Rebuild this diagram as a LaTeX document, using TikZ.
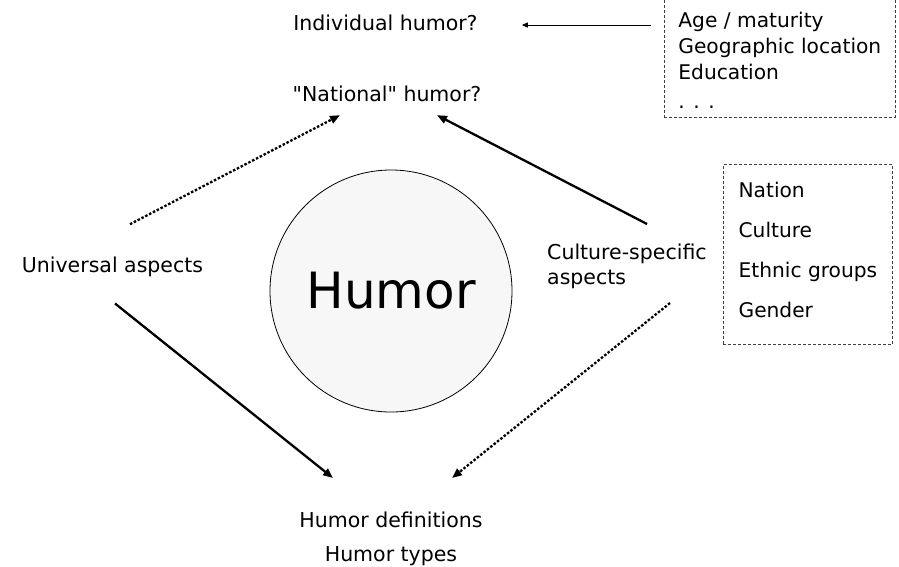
\documentclass[tikz,border=0pt]{standalone}
\usepackage{fontspec}
\setmainfont{DejaVu Sans}
\usetikzlibrary{arrows.meta,calc}
\tikzset{
  txt/.style={inner sep=0pt, font=\fontsize{20.5}{24}\selectfont},
  lst/.style={rectangle, draw=black!75, line width=0.8pt, dash pattern=on 3pt off 2pt,
              align=left, font=\fontsize{20.2}{26}\selectfont},
  hub/.style={circle, draw, line width=0.8pt, fill=black!3, minimum size=242pt,
              inner sep=0pt, font=\fontsize{50}{60}\selectfont},
  arr/.style={-{Triangle[length=10pt,width=8pt]}, line width=2.3pt},
  darr/.style={arr, dash pattern=on 2.5pt off 1.8pt},
  tarr/.style={-{Triangle[length=6pt,width=5pt]}, line width=1pt}
}
\begin{document}
\begin{tikzpicture}[x=1pt, y=-1pt]
  \useasboundingbox (0,0) rectangle (899,566);
  \clip (0,0) rectangle (899,566);
  \node[hub] (humor) at (391,291) {Humor};
  \node[txt, anchor=base] (indiv) at (385.5,30.7) {Individual humor?};
  \node[txt, anchor=base] (natl) at (387,101.7) {\textquotedbl National\textquotedbl{} humor?};
  \node[txt, anchor=base] (univ) at (112.5,272) {Universal aspects};
  \node[txt, anchor=north west, align=left, font=\fontsize{20.5}{25}\selectfont] (cult) at (547,244) {Culture-specific\\aspects};
  \node[txt, anchor=north, align=center, font=\fontsize{20.5}{34}\selectfont] (defs) at (391,511.5) {Humor definitions\\Humor types};
  \node[lst, anchor=south west, minimum width=229pt, inner xsep=14pt, inner ysep=9pt, text height=115pt] (agebox) at (664,118)
    {Age / maturity\\Geographic location\\Education\\[3pt]. . .};
  \node[lst, anchor=north west, minimum width=169pt, inner xsep=15pt, inner ysep=18pt, text depth=9pt,
        font=\fontsize{20.2}{40}\selectfont] (cultbox) at (723,164) {Nation\\Culture\\Ethnic groups\\Gender};
  \draw[tarr] ($(agebox.west |- indiv.east)+(-13,2)$) -- ($(indiv.east)+(44,2)$);
  \draw[darr] ($(univ.north)+(17.5,-32)$) -- ($(natl.south)+(-47,13)$);
  \draw[arr] ($(cult.north west)+(100,-20)$) -- ($(natl.south)+(50,13)$);
  \draw[arr] ($(univ.south)+(2.5,27)$) -- ($(defs.north)+(-58,-33.5)$);
  \draw[darr] ($(cult.north west)+(123,59)$) -- ($(defs.north)+(61,-33.5)$);
\end{tikzpicture}
\end{document}
